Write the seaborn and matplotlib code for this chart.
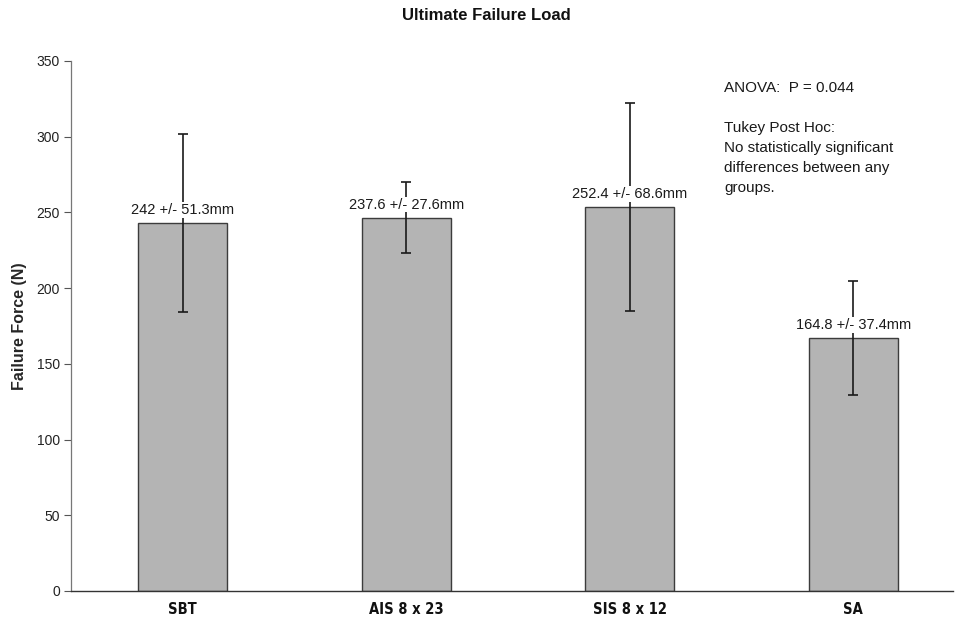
import matplotlib
matplotlib.use("Agg")
import matplotlib.pyplot as plt
import seaborn as sns
import pandas as pd

categories = ["SBT", "AIS 8 x 23", "SIS 8 x 12", "SA"]
means = [243.0, 246.5, 253.6, 167.0]
errors = [59.0, 23.5, 68.7, 37.5]
bar_labels = ["242 +/- 51.3mm", "237.6 +/- 27.6mm", "252.4 +/- 68.6mm", "164.8 +/- 37.4mm"]
y_ticks = [0, 50, 100, 150, 200, 250, 300, 350]

sns.set_theme(style="white")
plt.rcParams["font.family"] = ["Liberation Sans", "DejaVu Sans"]

df = pd.DataFrame({"group": categories, "force": means})

fig = plt.figure(figsize=(9.55, 6.21), dpi=100)
ax = fig.add_axes([71 / 955, 30 / 621, (953 - 71) / 955, 530 / 621])

sns.barplot(data=df, x="group", y="force", order=categories, color="#b4b4b4",
            saturation=1, width=0.40, edgecolor="#3c3c3c", linewidth=1.0,
            errorbar=None, ax=ax)

centers = [p.get_x() + p.get_width() / 2 for p in ax.patches]
ax.errorbar(centers, means, yerr=errors, fmt="none", ecolor="#1a1a1a",
            elinewidth=1.2, capsize=3.5, capthick=1.2, zorder=3)

for x, m, lab in zip(centers, means, bar_labels):
    ax.annotate(lab, xy=(x, m), xytext=(0, 9.5), textcoords="offset points",
                ha="center", va="center", fontsize=10.5, color="#1a1a1a",
                bbox=dict(boxstyle="square,pad=0.05", fc="white", ec="none"),
                zorder=4)

ax.set_ylim(0, 350)
ax.set_xlim(-0.5, 3.446)
ax.set_yticks(y_ticks)
ax.set_yticklabels([str(t) for t in y_ticks], fontsize=10, color="#222222")
ax.set_xticks(range(len(categories)))
ax.set_xticklabels(categories, fontsize=10.5, fontweight="bold",
                   family=["DejaVu Sans"], fontstretch="condensed",
                   color="#111111")
ax.tick_params(axis="y", which="major", direction="out", length=5, width=0.8,
               color="#555555", left=True, pad=3)
ax.tick_params(axis="x", length=0, pad=8)
ax.set_xlabel("")
ax.set_ylabel("Failure Force (N)", fontsize=11.5, fontweight="bold", labelpad=7)

for s in ["top", "right"]:
    ax.spines[s].set_visible(False)
ax.spines["left"].set_color("#777777")
ax.spines["left"].set_linewidth(0.9)
ax.spines["bottom"].set_color("#333333")
ax.spines["bottom"].set_linewidth(1.0)

fig.text(486 / 955, 1 - 16 / 621, "Ultimate Failure Load", ha="center", va="center",
         fontsize=12, fontweight="bold", color="#111111")

notes = [(88, "ANOVA:  P = 0.044"), (128, "Tukey Post Hoc:"),
         (148, "No statistically significant"), (168, "differences between any"),
         (188, "groups.")]
for yp, t in notes:
    fig.text(724 / 955, 1 - yp / 621, t, ha="left", va="center", fontsize=11,
             color="#1a1a1a")

fig.savefig("out.png", dpi=100)
